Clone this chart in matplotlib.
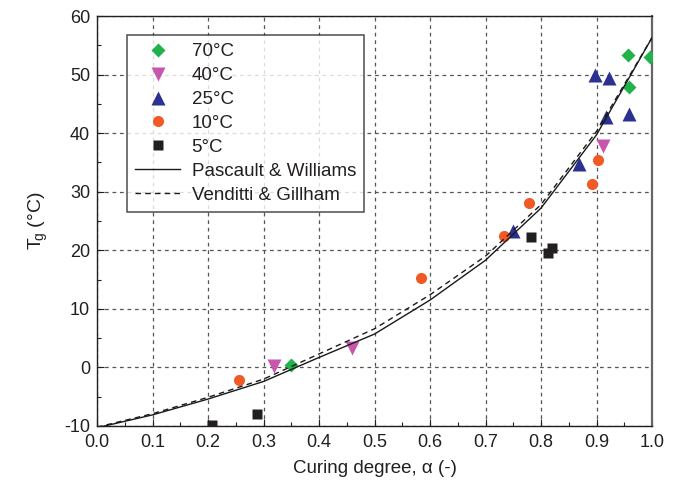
import matplotlib
matplotlib.use("Agg")
import matplotlib.pyplot as plt
from matplotlib.ticker import MultipleLocator, FormatStrFormatter

plt.rcParams['font.family'] = ['Liberation Sans', 'DejaVu Sans']
plt.rcParams['mathtext.fontset'] = 'custom'
plt.rcParams['mathtext.rm'] = 'Liberation Sans'
plt.rcParams['mathtext.it'] = 'Liberation Sans:italic'
plt.rcParams['axes.unicode_minus'] = False

# Measured glass transition temperatures per curing temperature
alpha_70 = [0.349, 0.956, 0.996, 0.958]
tg_70 = [0.4, 53.4, 53.0, 47.9]

alpha_40 = [0.319, 0.460, 0.911]
tg_40 = [0.3, 3.3, 37.8]

alpha_25 = [0.750, 0.869, 0.898, 0.923, 0.918, 0.958]
tg_25 = [23.3, 34.7, 50.0, 49.4, 42.7, 43.3]

alpha_10 = [0.256, 0.583, 0.733, 0.779, 0.891, 0.903]
tg_10 = [-2.1, 15.3, 22.5, 28.0, 31.4, 35.4]

alpha_5 = [0.208, 0.289, 0.782, 0.812, 0.820]
tg_5 = [-9.9, -8.0, 22.3, 19.6, 20.4]

# Model curves
alpha_model = [0.0, 0.1, 0.2, 0.3, 0.4, 0.5, 0.6, 0.7, 0.8, 0.9, 1.0]
tg_pascault = [-10.3, -8.1, -5.4, -2.4, 1.7, 5.7, 11.5, 18.3, 27.2, 39.7, 56.3]
tg_venditti = [-10.2, -7.9, -5.1, -2.0, 2.3, 6.6, 12.4, 19.0, 27.8, 40.3, 56.3]

text_color = '#231f20'

fig = plt.figure(figsize=(6.81, 4.95), dpi=100)
ax = fig.add_axes([97 / 681, 1 - 426 / 495, 555 / 681, 410 / 495])

ax.plot(alpha_70, tg_70, linestyle='none', marker='D', ms=7.5,
        color='#22b24c', mec='none', label='70°C', zorder=3)
ax.plot(alpha_40, tg_40, linestyle='none', marker='v', ms=9.5,
        color='#c757ad', mec='none', label='40°C', zorder=3)
ax.plot(alpha_25, tg_25, linestyle='none', marker='^', ms=9.5,
        color='#2b3190', mec='none', label='25°C', zorder=3)
ax.plot(alpha_10, tg_10, linestyle='none', marker='o', ms=8,
        color='#f15a24', mec='none', label='10°C', zorder=3)
ax.plot(alpha_5, tg_5, linestyle='none', marker='s', ms=7,
        color='#231f20', mec='none', label='5°C', zorder=3)
ax.plot(alpha_model, tg_pascault, '-', color='#1a1a1a', lw=1.0,
        label='Pascault & Williams', zorder=4)
ax.plot(alpha_model, tg_venditti, '--', color='#1a1a1a', lw=1.0,
        dashes=(4, 3), label='Venditti & Gillham', zorder=4)

ax.set_xlim(0.0, 1.0)
ax.set_ylim(-10, 60)
ax.xaxis.set_major_locator(MultipleLocator(0.1))
ax.xaxis.set_minor_locator(MultipleLocator(0.05))
ax.yaxis.set_major_locator(MultipleLocator(10))
ax.yaxis.set_minor_locator(MultipleLocator(5))
ax.xaxis.set_major_formatter(FormatStrFormatter('%.1f'))

ax.tick_params(which='both', direction='in', colors=text_color,
               labelsize=13, labelcolor=text_color)
ax.tick_params(which='major', length=5, width=0.8)
ax.tick_params(which='minor', length=3, width=0.8)
ax.tick_params(axis='x', pad=6)
ax.tick_params(axis='y', pad=5)

ax.grid(True, which='major', linestyle=(0, (3, 3)), color='#555555',
        lw=0.9, zorder=0)
ax.set_axisbelow(True)

for side in ['left', 'bottom', 'top']:
    ax.spines[side].set_color(text_color)
    ax.spines[side].set_linewidth(1.0)
ax.spines['right'].set_color('#666666')
ax.spines['right'].set_linewidth(1.6)

ax.set_xlabel('Curing degree, α (-)', fontsize=13.5, color=text_color, labelpad=6)
ax.set_ylabel(r'$\mathrm{T\!_g}$ (°C)', fontsize=14, color=text_color,
              labelpad=10)

leg = ax.legend(loc='upper left', bbox_to_anchor=(0.054, 0.954),
                borderaxespad=0, fontsize=13.5, frameon=True, fancybox=False,
                edgecolor=text_color, handlelength=2.4, handletextpad=0.6,
                labelspacing=0.36, borderpad=0.45, numpoints=1)
leg.get_frame().set_linewidth(1.1)
for t in leg.get_texts():
    t.set_color(text_color)

fig.savefig('out.png', dpi=100)
